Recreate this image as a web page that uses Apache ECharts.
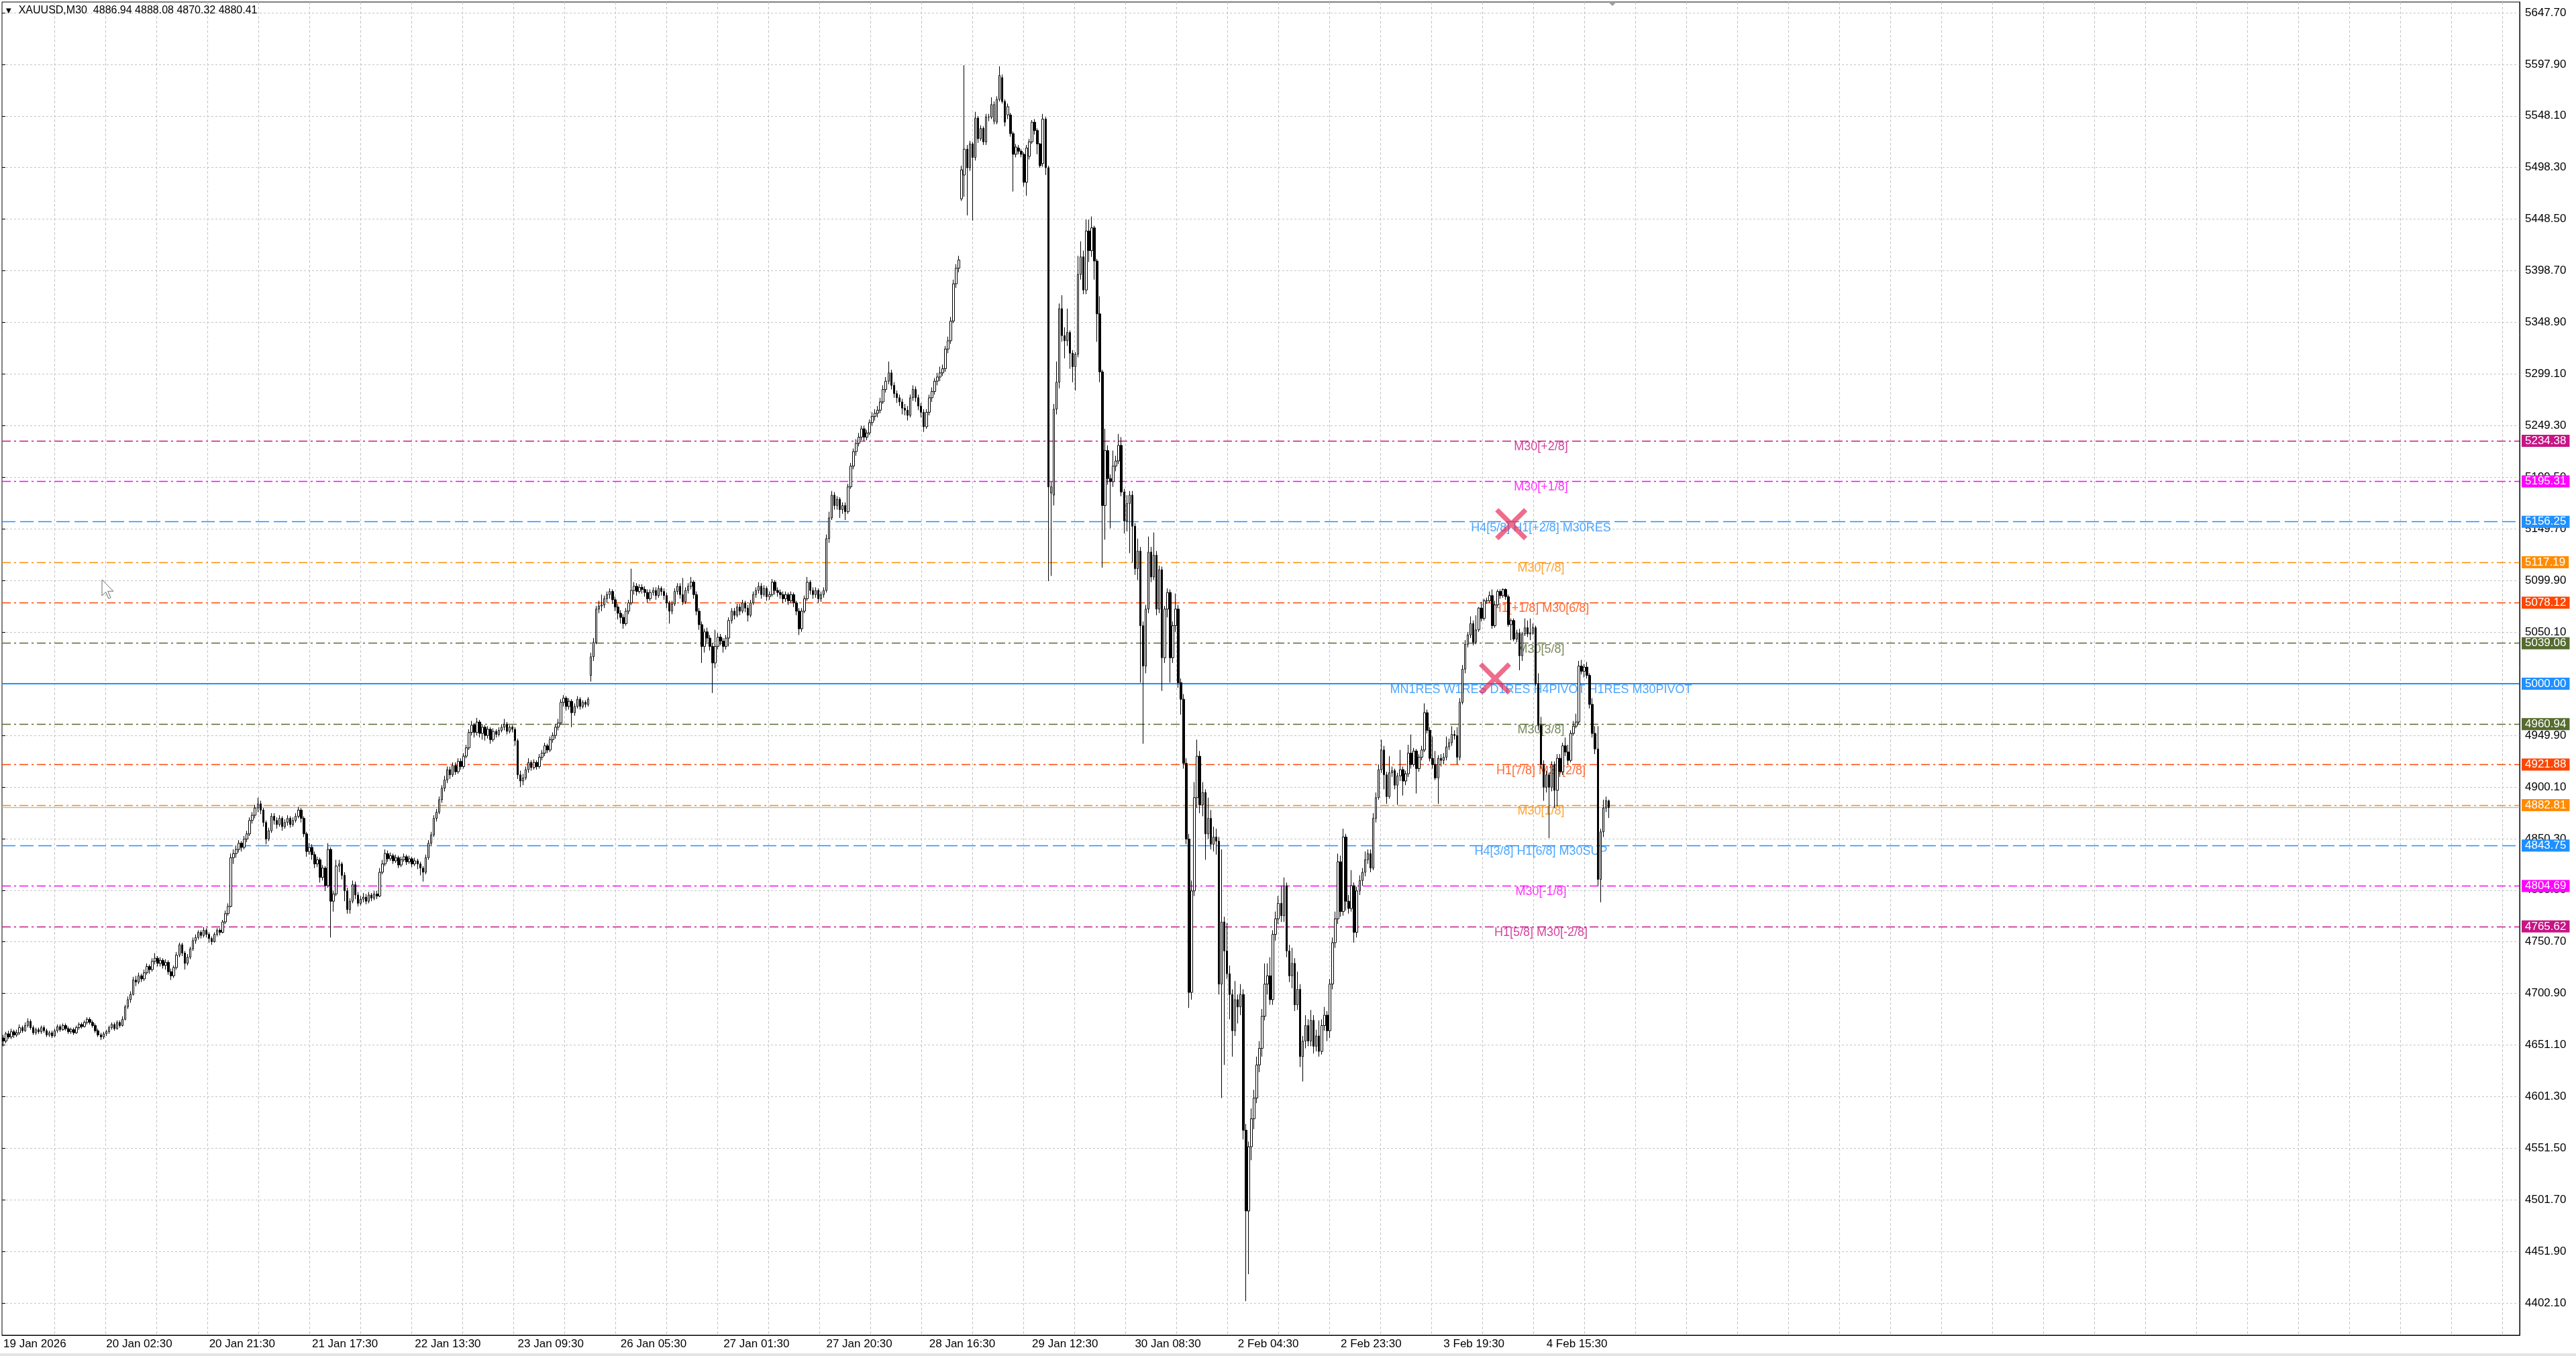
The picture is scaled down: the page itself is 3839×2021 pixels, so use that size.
<!DOCTYPE html>
<html><head><meta charset="utf-8">
<script src="https://cdn.jsdelivr.net/npm/echarts@6/dist/echarts.min.js"></script>
<style>html,body{margin:0;padding:0;background:#fff}#c{width:3839px;height:2021px}</style>
</head><body><div id="c"></div>
<script>
// ---- candle data [open, close, low, high], one array per 38-bar label span ----
const s19Jan = [[4658,4655,4650,4661],[4655,4662,4653,4664],[4662,4659,4657,4665],[4659,4664,4657,4667],[4664,4661,4658,4666],
[4661,4663,4659,4666],[4663,4668,4661,4671],[4668,4665,4663,4670],[4665,4670,4664,4673],[4670,4674,4668,4677],
[4674,4668,4666,4676],[4668,4663,4661,4670],[4663,4666,4661,4668],[4666,4664,4662,4668],[4664,4668,4662,4670],
[4668,4665,4663,4670],[4665,4661,4659,4667],[4661,4663,4659,4665],[4663,4660,4658,4665],[4660,4665,4659,4667],
[4665,4669,4663,4671],[4669,4666,4664,4671],[4666,4670,4665,4672],[4670,4667,4665,4672],[4667,4664,4662,4669],
[4664,4666,4662,4668],[4666,4663,4661,4668],[4663,4668,4662,4670],[4668,4671,4666,4673],[4671,4669,4667,4673],
[4669,4673,4668,4675],[4673,4676,4671,4678],[4676,4673,4671,4678],[4673,4670,4668,4675],[4670,4665,4663,4672],
[4665,4661,4659,4667],[4661,4659,4656,4663],[4659,4662,4657,4664]];
const s20Jan0230 = [[4662,4664,4660,4666],[4664,4668,4662,4670],[4668,4671,4666,4673],[4671,4667,4665,4673],[4667,4673,4666,4675],
[4673,4670,4668,4675],[4670,4676,4669,4679],[4676,4688,4675,4690],[4688,4695,4686,4698],[4695,4700,4692,4703],
[4700,4714,4699,4717],[4714,4712,4708,4718],[4712,4718,4710,4721],[4718,4715,4712,4720],[4715,4721,4713,4724],
[4721,4727,4719,4730],[4727,4724,4720,4729],[4724,4732,4722,4735],[4732,4735,4729,4740],[4735,4730,4727,4737],
[4730,4733,4727,4736],[4733,4728,4725,4735],[4728,4731,4724,4734],[4731,4722,4719,4733],[4722,4718,4714,4725],
[4718,4726,4716,4728],[4726,4738,4724,4741],[4738,4748,4736,4750],[4748,4740,4737,4750],[4740,4730,4724,4742],
[4730,4736,4728,4739],[4736,4744,4734,4746],[4744,4752,4742,4755],[4752,4755,4749,4758],[4755,4760,4753,4762],
[4760,4757,4754,4762],[4757,4762,4755,4765],[4762,4758,4755,4764]];
const s20Jan2130 = [[4758,4754,4750,4760],[4754,4751,4748,4756],[4751,4758,4750,4760],[4758,4762,4756,4764],[4762,4760,4757,4764],
[4760,4770,4759,4772],[4770,4778,4768,4781],[4778,4785,4776,4788],[4785,4832,4784,4836],[4832,4836,4826,4840],
[4836,4840,4832,4844],[4840,4846,4837,4849],[4846,4842,4838,4848],[4842,4850,4840,4853],[4850,4855,4847,4858],
[4855,4868,4853,4871],[4868,4873,4865,4876],[4873,4880,4870,4883],[4880,4884,4876,4890],[4884,4878,4874,4887],
[4878,4866,4862,4880],[4866,4850,4845,4868],[4850,4858,4848,4861],[4858,4872,4856,4875],[4872,4868,4864,4875],
[4868,4864,4860,4871],[4864,4870,4862,4873],[4870,4862,4858,4872],[4862,4866,4860,4869],[4866,4870,4863,4873],
[4870,4864,4861,4872],[4864,4868,4862,4871],[4868,4872,4866,4875],[4872,4878,4870,4881],[4878,4870,4866,4880],
[4870,4855,4852,4872],[4855,4838,4833,4857],[4838,4842,4835,4846]];
const s21Jan1730 = [[4842,4835,4830,4845],[4835,4826,4822,4838],[4826,4830,4823,4833],[4830,4813,4808,4832],[4813,4822,4810,4825],
[4822,4805,4800,4824],[4805,4840,4803,4846],[4840,4790,4755,4842],[4790,4797,4780,4800],[4797,4824,4795,4830],
[4824,4826,4818,4830],[4826,4815,4811,4828],[4815,4800,4790,4818],[4800,4782,4778,4803],[4782,4790,4778,4793],
[4790,4806,4788,4810],[4806,4796,4792,4809],[4796,4788,4785,4799],[4788,4792,4786,4795],[4792,4794,4789,4798],
[4794,4790,4787,4797],[4790,4796,4788,4799],[4796,4793,4790,4798],[4793,4797,4791,4800],[4797,4795,4792,4800],
[4795,4818,4794,4822],[4818,4826,4816,4830],[4826,4836,4824,4840],[4836,4831,4828,4839],[4831,4834,4829,4837],
[4834,4829,4826,4836],[4829,4832,4827,4835],[4832,4825,4822,4834],[4825,4830,4823,4833],[4830,4833,4828,4836],
[4833,4828,4825,4835],[4828,4831,4826,4834],[4831,4826,4823,4833]];
const s22Jan1330 = [[4826,4829,4824,4832],[4829,4826,4821,4831],[4826,4822,4815,4828],[4822,4818,4809,4824],[4818,4832,4816,4835],
[4832,4846,4830,4849],[4846,4854,4844,4857],[4854,4870,4852,4873],[4870,4876,4867,4879],[4876,4888,4874,4891],
[4888,4899,4885,4902],[4899,4907,4896,4911],[4907,4917,4904,4920],[4917,4912,4908,4920],[4912,4921,4910,4924],
[4921,4915,4912,4924],[4915,4925,4913,4928],[4925,4920,4917,4928],[4920,4930,4918,4933],[4930,4938,4928,4941],
[4938,4953,4936,4956],[4953,4960,4950,4964],[4960,4953,4948,4962],[4953,4963,4950,4967],[4963,4952,4948,4965],
[4952,4958,4946,4961],[4958,4950,4945,4960],[4950,4956,4947,4959],[4956,4946,4942,4958],[4946,4954,4944,4957],
[4954,4951,4948,4956],[4951,4955,4949,4958],[4955,4958,4953,4961],[4958,4961,4955,4966],[4961,4954,4951,4963],
[4954,4958,4952,4960],[4958,4956,4953,4960],[4956,4945,4940,4958]];
const s23Jan0930 = [[4945,4912,4908,4947],[4912,4906,4900,4916],[4906,4909,4902,4913],[4909,4917,4907,4920],[4917,4924,4914,4928],
[4924,4919,4916,4926],[4919,4924,4917,4927],[4924,4920,4917,4926],[4920,4929,4918,4932],[4929,4933,4926,4936],
[4933,4940,4930,4943],[4940,4936,4933,4942],[4936,4946,4934,4949],[4946,4950,4943,4953],[4950,4958,4947,4961],
[4958,4962,4955,4966],[4962,4982,4960,4985],[4982,4986,4978,4989],[4986,4978,4974,4988],[4978,4983,4975,4986],
[4983,4972,4958,4985],[4972,4978,4969,4981],[4978,4985,4976,4988],[4985,4978,4975,4987],[4978,4982,4976,4984],
[4982,4980,4977,4984],[4980,4985,4978,4987],[5008,5026,5002,5030],[5026,5040,5022,5044],[5040,5072,5038,5075],
[5072,5075,5068,5080],[5075,5076,5070,5086],[5076,5082,5073,5085],[5082,5086,5078,5089],[5086,5089,5082,5092],
[5089,5081,5077,5091],[5081,5074,5070,5084],[5074,5068,5062,5077]];
const s26Jan0530 = [[5068,5064,5058,5071],[5064,5058,5053,5067],[5058,5070,5056,5073],[5070,5078,5067,5081],[5078,5090,5076,5111],
[5090,5094,5086,5098],[5094,5089,5085,5097],[5089,5093,5087,5096],[5093,5091,5087,5096],[5091,5088,5084,5094],
[5088,5082,5078,5091],[5082,5088,5080,5091],[5088,5090,5085,5093],[5090,5085,5081,5093],[5085,5092,5083,5095],
[5092,5089,5085,5094],[5089,5085,5081,5092],[5085,5078,5073,5088],[5078,5070,5058,5080],[5070,5077,5067,5080],
[5077,5089,5075,5092],[5089,5094,5086,5097],[5094,5086,5082,5097],[5086,5079,5076,5102],[5079,5090,5077,5093],
[5090,5094,5087,5097],[5094,5098,5091,5103],[5098,5086,5082,5100],[5086,5070,5066,5089],[5070,5057,5052,5073],
[5057,5036,5020,5060],[5036,5050,5030,5053],[5050,5044,5040,5054],[5044,5036,5032,5047],[5036,5020,4991,5039],
[5020,5036,5015,5052],[5036,5045,5033,5049],[5045,5041,5037,5048]];
const s27Jan0130 = [[5041,5036,5030,5044],[5036,5044,5033,5047],[5044,5061,5036,5064],[5061,5070,5058,5073],[5070,5066,5062,5073],
[5066,5074,5064,5077],[5074,5070,5066,5077],[5070,5078,5068,5081],[5078,5073,5069,5080],[5073,5066,5060,5076],
[5066,5078,5064,5081],[5078,5086,5076,5089],[5086,5090,5083,5093],[5090,5094,5087,5098],[5094,5086,5082,5097],
[5086,5092,5084,5095],[5092,5084,5080,5094],[5084,5086,5081,5089],[5086,5098,5084,5101],[5098,5090,5086,5100],
[5090,5088,5084,5093],[5088,5086,5082,5091],[5086,5082,5078,5089],[5082,5086,5079,5089],[5086,5080,5076,5088],
[5080,5086,5078,5089],[5086,5078,5074,5088],[5078,5070,5066,5080],[5070,5053,5047,5073],[5053,5070,5050,5073],
[5070,5082,5068,5085],[5082,5098,5080,5103],[5098,5090,5086,5100],[5090,5086,5082,5093],[5086,5090,5083,5093],
[5090,5082,5078,5092],[5082,5086,5079,5089],[5086,5090,5083,5093]];
const s27Jan2030 = [[5090,5140,5088,5144],[5140,5160,5136,5166],[5160,5182,5158,5186],[5182,5172,5168,5185],[5172,5178,5168,5181],
[5178,5168,5160,5180],[5168,5172,5164,5175],[5172,5166,5158,5175],[5166,5190,5164,5193],[5190,5210,5188,5213],
[5210,5224,5207,5227],[5224,5232,5220,5236],[5232,5238,5229,5242],[5238,5246,5235,5249],[5246,5238,5234,5249],
[5238,5242,5235,5245],[5242,5252,5240,5255],[5252,5258,5249,5262],[5258,5261,5254,5265],[5261,5264,5257,5268],
[5264,5272,5261,5276],[5272,5284,5270,5288],[5284,5292,5281,5296],[5292,5300,5289,5311],[5300,5288,5284,5303],
[5288,5280,5276,5291],[5280,5276,5271,5283],[5276,5272,5268,5279],[5272,5266,5260,5275],[5266,5264,5259,5270],
[5264,5259,5254,5268],[5259,5276,5257,5279],[5276,5284,5273,5288],[5284,5276,5272,5287],[5276,5268,5264,5279],
[5268,5262,5257,5271],[5262,5248,5243,5265],[5248,5262,5246,5265]];
const s28Jan1630 = [[5262,5276,5259,5279],[5276,5282,5272,5286],[5282,5292,5279,5295],[5292,5296,5288,5300],[5296,5300,5292,5306],
[5300,5304,5297,5308],[5304,5323,5301,5326],[5323,5331,5319,5335],[5331,5350,5328,5354],[5350,5386,5348,5390],
[5386,5401,5382,5405],[5401,5409,5397,5413],[5468,5496,5466,5500],[5491,5516,5470,5597],[5516,5498,5452,5520],
[5498,5521,5495,5524],[5521,5508,5447,5523],[5508,5546,5505,5552],[5546,5526,5522,5548],[5526,5536,5524,5539],
[5536,5523,5520,5538],[5523,5547,5520,5550],[5547,5547,5543,5550],[5547,5559,5545,5566],[5543,5559,5540,5562],
[5542,5564,5540,5567],[5564,5587,5562,5596],[5585,5562,5560,5588],[5562,5542,5538,5564],[5549,5557,5545,5560],
[5549,5531,5528,5551],[5531,5511,5475,5533],[5511,5518,5508,5521],[5517,5514,5511,5520],[5514,5511,5508,5516],
[5511,5484,5480,5513],[5484,5517,5471,5520],[5509,5523,5506,5526]];
const s29Jan1230 = [[5523,5542,5521,5544],[5542,5534,5530,5545],[5534,5521,5511,5536],[5521,5500,5498,5522],[5502,5545,5499,5550],
[5545,5498,5491,5547],[5498,5190,5099,5500],[5184,5190,5104,5195],[5182,5265,5172,5270],[5265,5291,5260,5311],
[5291,5362,5285,5367],[5362,5336,5330,5375],[5336,5331,5314,5344],[5331,5339,5326,5362],[5339,5319,5304,5341],
[5319,5306,5291,5322],[5306,5318,5283,5320],[5318,5395,5315,5413],[5395,5412,5390,5427],[5412,5380,5376,5418],
[5380,5437,5376,5448],[5437,5418,5407,5448],[5418,5440,5412,5451],[5440,5408,5390,5442],[5408,5357,5330,5410],
[5357,5301,5291,5374],[5301,5172,5112,5303],[5172,5225,5139,5246],[5225,5198,5192,5230],[5198,5195,5150,5202],
[5195,5210,5190,5225],[5210,5215,5205,5220],[5215,5230,5212,5241],[5230,5185,5181,5238],[5185,5157,5145,5188],
[5157,5174,5147,5182],[5174,5182,5126,5186],[5182,5152,5117,5186]];
const s30Jan0830 = [[5152,5111,5105,5155],[5111,5128,5100,5140],[5128,5056,5001,5132],[5056,5017,4942,5060],[5017,5072,5010,5076],
[5072,5127,5068,5142],[5127,5103,5098,5132],[5103,5124,5100,5146],[5124,5072,5066,5128],[5072,5110,5068,5114],
[5110,5025,4993,5113],[5025,5072,5020,5075],[5072,5088,5064,5092],[5088,5025,5001,5091],[5025,5056,5020,5060],
[5056,5072,5050,5087],[5072,5001,4996,5076],[5001,4985,4970,5005],[4985,4923,4918,4990],[4923,4850,4845,4928],
[4850,4702,4687,4855],[4702,4800,4695,4810],[4800,4890,4795,4905],[4890,4930,4880,4946],[4930,4883,4875,4935],
[4883,4895,4872,4905],[4895,4855,4830,4898],[4855,4870,4850,4890],[4870,4845,4840,4878],[4845,4852,4838,4862],
[4852,4848,4835,4860],[4848,4710,4700,4852],[4710,4770,4600,4840],[4770,4742,4632,4775],[4742,4720,4715,4769],
[4720,4700,4676,4728],[4700,4665,4640,4705],[4665,4695,4660,4713]];
const s2Feb0430 = [[4695,4688,4672,4700],[4688,4700,4680,4710],[4700,4569,4560,4705],[4569,4491,4404,4575],[4491,4553,4430,4558],
[4553,4580,4540,4590],[4580,4600,4570,4608],[4600,4632,4595,4640],[4632,4648,4625,4655],[4648,4679,4640,4686],
[4679,4710,4675,4730],[4710,4718,4700,4730],[4718,4695,4690,4736],[4695,4758,4690,4762],[4758,4773,4752,4780],
[4773,4788,4768,4795],[4788,4776,4770,4805],[4776,4805,4770,4813],[4805,4742,4736,4808],[4742,4718,4712,4748],
[4718,4730,4706,4745],[4730,4690,4684,4735],[4690,4705,4685,4722],[4705,4640,4630,4710],[4640,4655,4616,4660],
[4655,4670,4648,4680],[4670,4655,4650,4676],[4655,4675,4650,4685],[4675,4650,4643,4680],[4650,4660,4645,4666],
[4660,4645,4640,4675],[4645,4670,4642,4676],[4670,4680,4665,4688],[4680,4665,4655,4684],[4665,4710,4658,4715],
[4710,4750,4705,4755],[4750,4773,4745,4780],[4773,4828,4768,4836]];
const s2Feb2330 = [[4828,4780,4775,4834],[4780,4852,4776,4860],[4852,4790,4781,4855],[4790,4783,4778,4796],[4783,4805,4780,4820],
[4805,4760,4750,4808],[4760,4800,4755,4804],[4800,4810,4796,4815],[4810,4818,4805,4822],[4818,4830,4814,4838],
[4830,4836,4826,4840],[4836,4822,4818,4840],[4822,4870,4820,4875],[4870,4890,4866,4895],[4890,4917,4888,4922],
[4917,4936,4914,4946],[4936,4912,4898,4940],[4912,4891,4884,4915],[4891,4914,4889,4930],[4914,4916,4910,4920],
[4916,4902,4898,4918],[4902,4911,4883,4914],[4911,4917,4906,4936],[4917,4906,4892,4920],[4906,4913,4902,4916],
[4913,4933,4910,4941],[4933,4922,4918,4951],[4922,4935,4920,4938],[4935,4918,4894,4937],[4918,4929,4915,4932],
[4929,4936,4926,4940],[4936,4972,4934,4981],[4972,4955,4952,4975],[4955,4928,4925,4958],[4928,4922,4918,4949],
[4922,4909,4907,4935],[4909,4928,4884,4931],[4928,4926,4920,4932]];
const s3Feb1930 = [[4926,4929,4922,4933],[4929,4939,4926,4949],[4939,4943,4936,4947],[4943,4951,4940,4959],[4951,4950,4946,4955],
[4950,4929,4922,4958],[4929,4982,4926,4986],[4982,5014,4980,5018],[5014,5038,5010,5042],[5038,5047,5035,5050],
[5047,5058,5044,5065],[5058,5040,5037,5061],[5040,5052,5038,5066],[5052,5073,5050,5074],[5073,5063,5060,5079],
[5063,5080,5061,5082],[5080,5080,5077,5083],[5080,5085,5078,5089],[5085,5056,5053,5091],[5056,5076,5054,5080],
[5076,5089,5074,5091],[5089,5085,5082,5091],[5085,5091,5083,5092],[5091,5084,5081,5092],[5084,5057,5055,5086],
[5057,5061,5042,5063],[5061,5043,5041,5063],[5043,5049,5040,5052],[5049,5027,5013,5053],[5027,5048,5022,5050],
[5048,5054,5046,5063],[5054,5048,5045,5061],[5048,5049,5042,5063],[5049,5054,5047,5058],[5054,5000,4998,5056],
[5000,4960,4955,5010],[4960,4922,4918,4968],[4922,4900,4887,4926]];
const s4Feb1530 = [[4900,4912,4895,4916],[4912,4900,4851,4914],[4900,4922,4896,4925],[4922,4897,4880,4925],[4897,4928,4882,4932],
[4928,4915,4910,4932],[4915,4940,4912,4943],[4940,4934,4930,4948],[4934,4926,4922,4941],[4926,4952,4924,4955],
[4952,4959,4950,4964],[4959,4963,4957,4971],[4963,5017,4961,5022],[5017,5012,5009,5023],[5012,5016,5006,5019],
[5016,5008,5005,5021],[5008,4980,4976,5010],[4980,4952,4948,4986],[4952,4937,4932,4959],[4937,4811,4805,4959],
[4811,4857,4789,4860],[4857,4880,4852,4888],[4880,4887,4876,4891],[4886.94,4880.41,4870.32,4888.08]];

const tickLabels = ['19 Jan 2026','20 Jan 02:30','20 Jan 21:30','21 Jan 17:30','22 Jan 13:30','23 Jan 09:30','26 Jan 05:30',
  '27 Jan 01:30','27 Jan 20:30','28 Jan 16:30','29 Jan 12:30','30 Jan 08:30','2 Feb 04:30','2 Feb 23:30','3 Feb 19:30','4 Feb 15:30'];
const priceTickLabels = ['4402.10','4451.90','4501.70','4551.50','4601.30','4651.10','4700.90','4750.70','4800.50','4850.30',
  '4900.10','4949.90','5000.00','5050.10','5099.90','5149.70','5199.50','5249.30','5299.10','5348.90','5398.70','5448.50',
  '5498.30','5548.10','5597.90','5647.70'];
const levelPrices = [5234.38,5195.31,5156.25,5117.19,5078.12,5039.06,5000.00,4960.94,4921.88,4882.81,4843.75,4804.69,4765.62];
const levelNames = ['M30[+2/8]','M30[+1/8]','H4[5/8] H1[+2/8] M30RES','M30[7/8]','H1[+1/8] M30[6/8]','M30[5/8]',
  'MN1RES W1RES D1RES H4PIVOT H1RES M30PIVOT','M30[3/8]','H1[7/8] M30[2/8]','M30[1/8]','H4[3/8] H1[6/8] M30SUP','M30[-1/8]','H1[5/8] M30[-2/8]'];
const bidPrice = 4880.41;
const crossMarks = [[557, 5154], [551, 5005]];
const titleText = 'XAUUSD,M30  4886.94 4888.08 4870.32 4880.41';

// ---- styles ----
const levelColors = ['#C71585','#FF00FF','#1E90FF','#FF8C00','#FF4500','#556B2F','#1E90FF','#556B2F','#FF4500','#FF8C00','#1E90FF','#FF00FF','#C71585'];
const levelKinds = ['dd','dd','dash','dd','dd','dd','solid','dd','dd','dd','dash','dd','dd'];
const FONT = '"Liberation Sans", Arial, sans-serif';
const SLOTS = 930;
const LABEL_EVERY = 38;

const candles = [].concat(s19Jan, s20Jan0230, s20Jan2130, s21Jan1730, s22Jan1330, s23Jan0930, s26Jan0530, s27Jan0130,
  s27Jan2030, s28Jan1630, s29Jan1230, s30Jan0830, s2Feb0430, s2Feb2330, s3Feb1930, s4Feb1530);
const slots = [];
for (let i = 0; i < SLOTS; i++) slots.push(String(i));

const lineType = k => k === 'solid' ? 'solid' : (k === 'dash' ? [20, 7] : [13, 5, 3, 5]);
const markData = [{ yAxis: bidPrice, lineStyle: { color: '#BDBDBD', width: 1.3, type: 'solid' }, label: { show: false } }];
levelPrices.forEach((p, i) => {
  markData.push({
    yAxis: p,
    lineStyle: { color: levelColors[i], width: levelKinds[i] === 'solid' ? 2 : 1.4, type: lineType(levelKinds[i]) },
    label: { show: true, position: 'end', distance: 3, formatter: p.toFixed(2), backgroundColor: levelColors[i],
      color: '#fff', fontSize: 17, fontFamily: FONT, lineHeight: 17, padding: [1, 5, 0, 5] }
  });
});

const chart = echarts.init(document.getElementById('c'), null, { renderer: 'canvas', width: 3839, height: 2021 });
chart.setOption({
  animation: false,
  backgroundColor: '#ffffff',
  title: {
    text: '{t|▼}' + titleText, left: 9, top: 8, padding: 0,
    textStyle: { fontSize: 16, fontWeight: 'normal', color: '#000', fontFamily: FONT,
      rich: { t: { fontSize: 10, fontFamily: 'DejaVu Sans', padding: [0, 11, 0, 0], color: '#000' } } }
  },
  grid: [
    { left: 3, right: 84, top: 3, bottom: 31, show: true, borderColor: '#000', borderWidth: 1 },
    { left: 81.4, right: 84, top: 3, bottom: 31, show: false },
    { left: 3, right: 84, top: 18.95, bottom: 78.8, show: false }
  ],
  xAxis: [
    { gridIndex: 0, type: 'category', data: slots, boundaryGap: true,
      axisLine: { show: true, onZero: false, lineStyle: { color: '#000', width: 1 } },
      axisTick: { show: false }, splitLine: { show: false },
      axisLabel: { interval: LABEL_EVERY - 1, align: 'left', margin: 5, fontSize: 17, color: '#000', fontFamily: FONT,
        formatter: (v, idx) => tickLabels[idx / LABEL_EVERY] || '' } },
    { gridIndex: 1, type: 'value', min: 0, max: 48.34, interval: 1,
      axisLine: { show: false }, axisTick: { show: false }, axisLabel: { show: false },
      splitLine: { show: true, lineStyle: { color: '#C4C4C4', width: 1, type: [4, 3] } } },
    { gridIndex: 2, type: 'value', min: 0, max: 1, show: false }
  ],
  yAxis: [
    { gridIndex: 0, type: 'value', position: 'right', min: 4371.1, max: 5658.0,
      axisLine: { show: true, onZero: false, lineStyle: { color: '#000', width: 1 } },
      axisTick: { show: false }, axisLabel: { show: false }, splitLine: { show: false } },
    { gridIndex: 1, type: 'value', min: 0, max: 1, show: false },
    { gridIndex: 2, type: 'value', position: 'right', min: 0, max: 25, interval: 1,
      axisLine: { show: false }, axisTick: { show: true, length: 5, lineStyle: { color: '#000' } },
      axisLabel: { show: true, margin: 8, fontSize: 17, color: '#000', fontFamily: FONT, formatter: v => priceTickLabels[v] },
      splitLine: { show: true, lineStyle: { color: '#C4C4C4', width: 1, type: [3, 3] } } }
  ],
  series: [
    { type: 'candlestick', xAxisIndex: 0, yAxisIndex: 0, z: 3, large: false, barWidth: 3, data: candles,
      itemStyle: { color: '#ffffff', color0: '#000000', borderColor: '#000000', borderColor0: '#000000', borderWidth: 1 },
      markLine: { silent: true, symbol: ['none', 'none'], z: 1, animation: false, data: markData } },
    { type: 'scatter', xAxisIndex: 0, yAxisIndex: 0, z: 2, symbolSize: 0, silent: true,
      data: levelPrices.map((p, i) => ({ value: [568, p], label: { color: levelColors[i] } })),
      label: { show: true, position: 'bottom', distance: 0, fontSize: 18, fontFamily: FONT,
        formatter: prm => levelNames[prm.dataIndex] } },
    { type: 'scatter', xAxisIndex: 0, yAxisIndex: 0, z: 10, silent: true, symbolSize: 48,
      symbol: 'path://M10.6,0L50,39.4L89.4,0L100,10.6L60.6,50L100,89.4L89.4,100L50,60.6L10.6,100L0,89.4L39.4,50L0,10.6Z',
      itemStyle: { color: 'rgba(232,40,85,0.85)' }, data: crossMarks }
  ],
  graphic: [
    { type: 'polygon', silent: true, shape: { points: [[2397, 3], [2409, 3], [2403, 9]] }, style: { fill: '#A0A0A0' } },
    { type: 'rect', silent: true, shape: { x: 0, y: 2017, width: 3839, height: 4 }, style: { fill: '#E4E4E4' } },
    { type: 'polygon', silent: true, z: 20,
      shape: { points: [[152, 864], [152, 888], [157.6, 882.4], [161.8, 892], [165, 890.6], [160.8, 881.2], [168.8, 881.2]] },
      style: { fill: '#ffffff', stroke: '#6A6A6A', lineWidth: 1 } }
  ]
});
</script></body></html>
